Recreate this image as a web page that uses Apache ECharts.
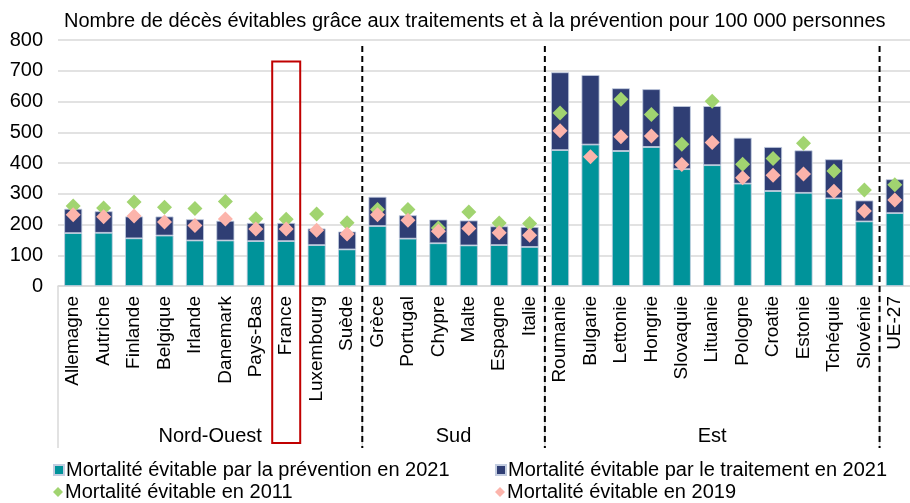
<!DOCTYPE html>
<html>
<head>
<meta charset="utf-8">
<script src="https://cdn.jsdelivr.net/npm/echarts@6/dist/echarts.min.js"></script>
<style>
  html, body { margin: 0; padding: 0; background: #fff; }
  #main { width: 910px; height: 503px; }
</style>
</head>
<body>
<div id="main"></div>
<script>
var categories = ['Allemagne', 'Autriche', 'Finlande', 'Belgique', 'Irlande', 'Danemark', 'Pays-Bas', 'France', 'Luxembourg', 'Suède',
  'Grèce', 'Portugal', 'Chypre', 'Malte', 'Espagne', 'Italie',
  'Roumanie', 'Bulgarie', 'Lettonie', 'Hongrie', 'Slovaquie', 'Lituanie', 'Pologne', 'Croatie', 'Estonie', 'Tchéquie', 'Slovénie',
  'UE-27'];
var prevention2021 = [172, 173, 155, 164, 148, 148, 146, 146, 133, 119,
  195, 154, 139, 132, 133, 127,
  442, 460, 439, 452, 380, 393, 333, 309, 303, 285, 210,
  237];
var treatment2021 = [79, 70, 71, 62, 69, 64, 59, 59, 54, 58,
  95, 76, 77, 81, 61, 65,
  253, 226, 204, 188, 205, 192, 149, 143, 138, 127, 68,
  110];
var total2011 = [260, 254, 273, 256, 252, 275, 219, 217, 234, 206,
  249, 249, 189, 241, 205, 203,
  563, null, 607, 558, 461, 601, 396, 415, 464, 374, 312,
  329];
var total2019 = [232, 225, 228, 208, 197, 218, 185, 185, 181, 169,
  232, 214, 178, 187, 173, 165,
  505, 420, 485, 488, 395, 467, 352, 360, 364, 308, 244,
  280];
// regions: label, first index, last index
var regions = [['Nord-Ouest', 0, 9], ['Sud', 10, 15], ['Est', 16, 26]];
var separators = [10, 16, 27];   // dashed lines before these indexes
var highlight = 'France';
var yTicks = [0, 100, 200, 300, 400, 500, 600, 700, 800];

var names = ['Mortalité évitable par la prévention en 2021', 'Mortalité évitable par le traitement en 2021',
  'Mortalité évitable en 2011', 'Mortalité évitable en 2019'];

var font = 'Liberation Sans, Arial, sans-serif';
var chart = echarts.init(document.getElementById('main'));

// one legend per entry, laid out in two rows like the original
var legendPos = [[48, 455], [490, 455], [48, 477], [490, 477]];
var legendIcon = ['rect', 'rect', 'diamond', 'diamond'];
var legends = names.map(function (n, i) {
  return {
    left: legendPos[i][0], top: legendPos[i][1], itemWidth: 10, itemHeight: 10, itemGap: 0,
    icon: legendIcon[i],
    textStyle: { fontSize: 20, color: '#000', fontFamily: font, padding: [0, 0, 0, -3] },
    data: [n]
  };
});

chart.setOption({
  animation: false,
  textStyle: { fontFamily: font, color: '#000' },
  title: {
    text: 'Nombre de décès évitables grâce aux traitements et à la prévention pour 100 000 personnes',
    left: 59, top: 6,
    textStyle: { fontSize: 20, fontWeight: 'normal', color: '#000', fontFamily: font }
  },
  grid: { left: 58, top: 40, width: 856, height: 246 },
  legend: legends,
  xAxis: {
    type: 'category',
    data: categories,
    axisLine: { lineStyle: { color: '#d9d9d9', width: 1.5 } },
    axisTick: { show: false },
    axisLabel: { rotate: 90, interval: 0, fontSize: 19, color: '#000', margin: 10 }
  },
  yAxis: {
    type: 'value',
    min: yTicks[0], max: yTicks[yTicks.length - 1], interval: 100,
    axisLine: { show: false },
    axisTick: { show: false },
    axisLabel: { fontSize: 20, color: '#000', margin: 15 },
    splitLine: { lineStyle: { color: '#d9d9d9', width: 1.5 } }
  },
  series: [{
    name: names[0],
    type: 'bar', stack: 'm', barWidth: 18,
    itemStyle: { color: '#00939a', borderColor: '#c3cde0', borderWidth: 0.8 },
    data: prevention2021
  }, {
    name: names[1],
    type: 'bar', stack: 'm', barWidth: 18,
    itemStyle: { color: '#2f3e74', borderColor: '#c3cde0', borderWidth: 0.8 },
    data: treatment2021
  }, {
    name: names[2],
    type: 'scatter', symbol: 'diamond', symbolSize: 15, z: 5,
    itemStyle: { color: '#a1d470', opacity: 1 },
    data: total2011
  }, {
    name: names[3],
    type: 'scatter', symbol: 'diamond', symbolSize: 15, z: 6,
    itemStyle: { color: '#fcb4ab', opacity: 1 },
    data: total2019
  }]
});

// decorations below the axis: group dividers, region names, highlight box
function xc(i) { return chart.convertToPixel({ xAxisIndex: 0 }, i); }
function yc(v) { return chart.convertToPixel({ yAxisIndex: 0 }, v); }
var band = xc(1) - xc(0);
var edge = function (i) { return xc(0) + (i - 0.5) * band; };
var y0 = yc(0), yTop = yc(800), yBottom = 448;
var graphics = [];

graphics.push({ type: 'line', shape: { x1: edge(0), y1: y0, x2: edge(0), y2: yBottom },
  style: { stroke: '#d9d9d9', lineWidth: 1.5 } });
separators.forEach(function (s) {
  graphics.push({ type: 'line', shape: { x1: edge(s), y1: y0, x2: edge(s), y2: yBottom },
    style: { stroke: '#d9d9d9', lineWidth: 1.5 } });
  graphics.push({ type: 'line', z: 10, shape: { x1: edge(s), y1: yTop + 6, x2: edge(s), y2: yBottom },
    style: { stroke: '#000', lineWidth: 2, lineDash: [6, 4] } });
});
regions.forEach(function (r) {
  graphics.push({ type: 'text', x: (edge(r[1]) + edge(r[2] + 1)) / 2, y: 436,
    style: { text: r[0], font: '20px ' + font, fill: '#000', textAlign: 'center', textVerticalAlign: 'middle' } });
});
var hi = categories.indexOf(highlight);
graphics.push({ type: 'rect', z: 10,
  shape: { x: xc(hi) - 14, y: yc(730), width: 28, height: 443 - yc(730) },
  style: { fill: 'none', stroke: '#c00000', lineWidth: 2 } });

chart.setOption({ graphic: graphics });
</script>
</body>
</html>
